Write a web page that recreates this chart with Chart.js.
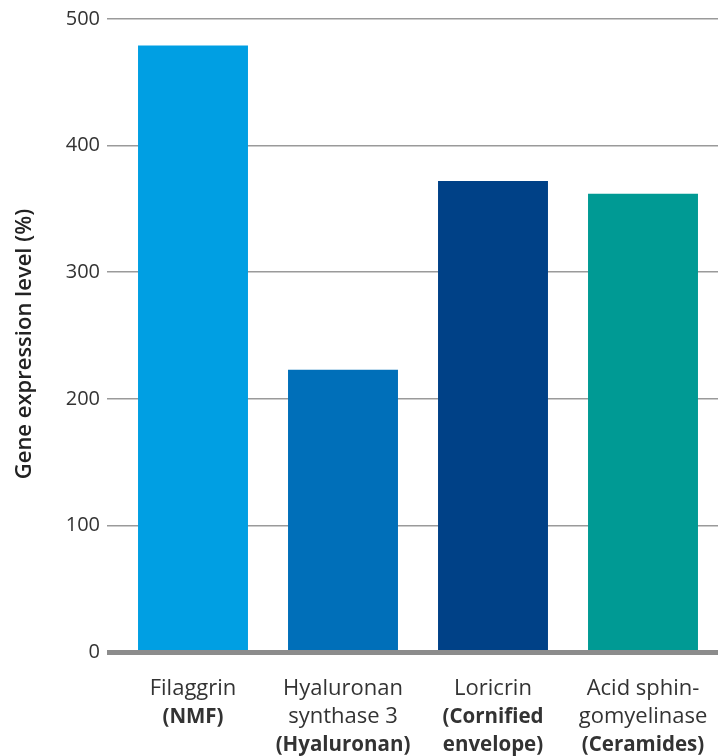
<!DOCTYPE html>
<html>
<head>
<meta charset="utf-8">
<script src="https://cdn.jsdelivr.net/npm/chart.js@4.4.0/dist/chart.umd.min.js"></script>
<style>
  html, body { margin:0; padding:0; background:#fff; }
  #wrap { width:718px; height:756px; }
</style>
</head>
<body>
<div id="wrap"><canvas id="c" width="718" height="756"></canvas></div>
<script>
/* data */
const categories = ['Filaggrin', 'Hyaluronan synthase 3', 'Loricrin', 'Acid sphingomyelinase'];
const labelPlain = [['Filaggrin'], ['Hyaluronan', 'synthase 3'], ['Loricrin'], ['Acid sphin-', 'gomyelinase']];
const labelBold = [['(NMF)'], ['(Hyaluronan)'], ['(Cornified', 'envelope)'], ['(Ceramides)']];
const expression = [479, 223, 372, 362];
const yMin = 0, yMax = 500, yStep = 100;
const yTitle = 'Gene expression level (%)';

const barColors = ['#009fe3', '#006fb9', '#004187', '#009a94'];
const FONT = "'Open Sans', 'Noto Sans', sans-serif";

// thick zero line drawn over the bar feet
const zeroLine = {
  id:'zeroLine',
  afterDatasetsDraw(chart){
    const {ctx, chartArea, scales} = chart;
    const y = scales.y.getPixelForValue(0);
    ctx.save();
    ctx.strokeStyle = '#8c8c8c'; ctx.lineWidth = 5;
    ctx.beginPath(); ctx.moveTo(chartArea.left - 11, y + 0.5); ctx.lineTo(chartArea.right, y + 0.5); ctx.stroke();
    ctx.restore();
  }
};

// category labels: plain lines then bold lines
const catLabels = {
  id:'catLabels',
  afterDraw(chart){
    const {ctx, scales} = chart;
    const y0 = scales.y.getPixelForValue(0) + 37;
    const lh = 28;
    ctx.save();
    ctx.fillStyle = '#333'; ctx.textAlign = 'center'; ctx.textBaseline = 'middle';
    categories.forEach((c, i)=>{
      const x = scales.x.getPixelForTick(i);
      let row = 0;
      ctx.font = `400 22px ${FONT}`;
      labelPlain[i].forEach(t=>{ ctx.fillText(t, x, y0 + row*lh); row++; });
      ctx.font = `700 20.5px ${FONT}`;
      labelBold[i].forEach(t=>{ ctx.fillText(t, x, y0 + row*lh); row++; });
    });
    ctx.restore();
  }
};

new Chart(document.getElementById('c'), {
  type:'bar',
  data:{ labels:categories, datasets:[{ data:expression, backgroundColor:barColors, borderWidth:0,
    barPercentage:0.733, categoryPercentage:1 }] },
  options:{
    responsive:false, animation:false,
    layout:{ padding:{ top:15, right:-3, bottom:0, left:0 } },
    plugins:{ legend:{display:false}, tooltip:{enabled:false} },
    scales:{
      x:{
        grid:{display:false}, border:{display:false},
        ticks:{display:false},
        afterFit(s){ s.height = 104; }
      },
      y:{
        min:yMin, max:yMax,
        border:{display:false},
        grid:{ color:(c)=> c.tick && c.tick.value===0 ? 'rgba(0,0,0,0)' : '#9a9a9a', lineWidth:1.5, tickLength:11 },
        ticks:{ stepSize:yStep, padding:7, color:'#333', font:{ family:FONT, size:20 } },
        title:{ display:true, text:yTitle + '\u00a0\u00a0\u00a0', color:'#222', padding:{top:12, bottom:0},
          font:{ family:FONT, size:22, weight:'600' } },
        afterFit(s){ s.width = 118; }
      }
    }
  },
  plugins:[zeroLine, catLabels]
});
</script>
</body>
</html>
